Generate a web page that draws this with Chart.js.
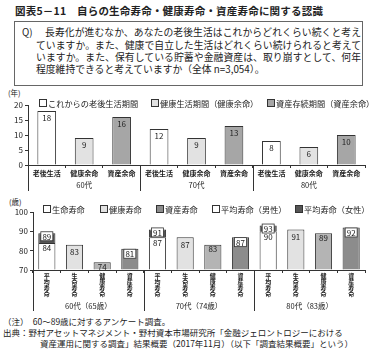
<!DOCTYPE html>
<html lang="ja">
<head>
<meta charset="utf-8">
<script src="https://cdn.jsdelivr.net/npm/chart.js@4/dist/chart.umd.min.js"></script>
<style>
  body { margin: 0; background: #fff; }
  #page { position: relative; width: 370px; height: 350px; overflow: hidden; font-family: "Noto Sans CJK JP", sans-serif; color: #222; }
  .abs { position: absolute; white-space: nowrap; }
  #title { left: 15px; top: 3px; font-size: 10.5px; font-weight: bold; letter-spacing: 0.2px; }
  #qbox { left: 14px; top: 21px; width: 347px; height: 63px; border: 1px solid #666; }
  .q { font-size: 9.8px; line-height: 12px; text-align: justify; text-align-last: justify; }
  .q.last { text-align-last: left; }
  .unit { font-size: 7.5px; }
  .lg { font-size: 8.2px; display: flex; align-items: center; }
  .lg i { display: inline-block; width: 6px; height: 6px; border: 1px solid #333; margin-right: 1px; }
  .note { font-size: 8.5px; line-height: 11px; }
  .box { position: absolute; }
</style>
</head>
<body>
<div id="page">
  <div class="abs" id="title">図表5－11　自らの生命寿命・健康寿命・資産寿命に関する認識</div>
  <div class="abs" id="qbox"></div>
  <div class="abs q" style="left:22px;top:26px;">Q)</div>
  <div class="abs q" style="left:45px;top:26px;width:316px;">長寿化が進むなか、あなたの老後生活はこれからどれくらい続くと考え</div>
  <div class="abs q" style="left:36px;top:39px;width:325px;">ていますか。また、健康で自立した生活はどれくらい続けられると考えて</div>
  <div class="abs q" style="left:36px;top:51px;width:325px;">いますか。また、保有している貯蓄や金融資産は、取り崩すとして、何年</div>
  <div class="abs q last" style="left:36px;top:63px;">程度維持できると考えていますか（全体 n=3,054）。</div>

  <div class="abs unit" style="left:8px;top:87px;">(年)</div>
  <div class="box" style="left:0;top:88px;width:370px;height:104px;"><canvas id="years"></canvas></div>
  <div class="abs lg" style="left:39px;top:97px;"><i style="background:#fff"></i>これからの老後生活期間</div>
  <div class="abs lg" style="left:151px;top:97px;"><i style="background:#e2e2e2"></i>健康生活期間（健康余命）</div>
  <div class="abs lg" style="left:267px;top:97px;"><i style="background:#a6a6a6"></i>資産存続期間（資産余命）</div>

  <div class="abs unit" style="left:9px;top:196px;">(歳)</div>
  <div class="box" style="left:0;top:195px;width:370px;height:120px;"><canvas id="ages"></canvas></div>
  <div class="abs lg" style="left:43px;top:203px;"><i style="background:#fff"></i>生命寿命</div>
  <div class="abs lg" style="left:100px;top:203px;"><i style="background:#e2e2e2"></i>健康寿命</div>
  <div class="abs lg" style="left:156px;top:203px;"><i style="background:#8c8c8c"></i>資産寿命</div>
  <div class="abs lg" style="left:212px;top:203px;"><i style="background:#fff"></i>平均寿命（男性）</div>
  <div class="abs lg" style="left:295px;top:203px;"><i style="background:#555"></i>平均寿命（女性）</div>

  <div class="abs note" style="left:3px;top:316px;">（注）　60～89歳に対するアンケート調査。</div>
  <div class="abs note" style="left:3px;top:327px;">出典：野村アセットマネジメント・野村資本市場研究所「金融ジェロントロジーにおける</div>
  <div class="abs note" style="left:40px;top:338px;">資産運用に関する調査」結果概要（2017年11月）（以下「調査結果概要」という）</div>
</div>

<script>
// upper chart: remaining years
const yearCats = ['老後生活', '健康余命', '資産余命'];
const yearGroups = ['60代', '70代', '80代'];
const retireYears = [18, 12, 8];
const healthyYears = [9, 9, 6];
const assetYears = [16, 13, 10];
const yearTicks = [0, 5, 10, 15, 20];

// lower chart: expected age
const ageCats = ['平均寿命', '生命寿命', '健康寿命', '資産寿命'];
const ageGroups = ['60代（65歳）', '70代（74歳）', '80代（83歳）'];
const avgMale = [84, 87, 90];
const avgFemale = [89, 91, 93];
const lifeAge = [83, 87, 91];
const healthAge = [74, 83, 89];
const assetAge = [81, 87, 92];
const ageTicks = [70, 75, 80, 85, 90, 95, 100];

const FONT = '"Noto Sans CJK JP", sans-serif';
const INK = '#222';
const EDGE = '#333';

// put each group's value at its own slot, other slots stay empty
function spread(values, slot, per) {
  const out = new Array(values.length * per).fill(null);
  values.forEach((v, g) => { out[g * per + slot] = v; });
  return out;
}

// value labels inside the top of each bar, optionally on a white box
const barLabels = {
  id: 'barLabels',
  afterDatasetsDraw(chart) {
    const ctx = chart.ctx;
    ctx.save();
    ctx.font = '8px ' + FONT;
    ctx.textAlign = 'center';
    ctx.textBaseline = 'middle';
    chart.data.datasets.forEach((ds, i) => {
      chart.getDatasetMeta(i).data.forEach((bar, j) => {
        const raw = ds.data[j];
        if (raw == null) return;
        const v = Array.isArray(raw) ? raw[1] : raw;
        const y = bar.y + (ds.labelDy || 6);
        if (ds.labelBox) {
          ctx.fillStyle = '#fff';
          ctx.strokeStyle = EDGE;
          ctx.lineWidth = 0.8;
          ctx.fillRect(bar.x - 6, y - 4.5, 12, 9);
          ctx.strokeRect(bar.x - 6, y - 4.5, 12, 9);
        }
        ctx.fillStyle = INK;
        ctx.fillText(String(v), bar.x, y + 0.5);
      });
    });
    ctx.restore();
  }
};

// group dividers under the axis and the group names
const groupAxis = {
  id: 'groupAxis',
  afterDraw(chart, args, opts) {
    const ctx = chart.ctx;
    const x = chart.scales.x;
    const per = opts.per;
    const w = x.width / chart.data.labels.length;
    const bottom = chart.chartArea.bottom;
    ctx.save();
    ctx.strokeStyle = EDGE;
    ctx.lineWidth = 1;
    opts.names.forEach((name, g) => {
      const left = Math.round(x.left + g * per * w) + 0.5;
      ctx.beginPath();
      ctx.moveTo(left, bottom);
      ctx.lineTo(left, bottom + opts.lineLen);
      ctx.stroke();
      ctx.fillStyle = INK;
      ctx.font = '7.5px ' + FONT;
      ctx.textAlign = 'center';
      ctx.textBaseline = 'middle';
      ctx.fillText(name, x.left + (g + 0.5) * per * w, bottom + opts.textDy);
    });
    ctx.restore();
  }
};

function axes(min, max, ticks, yWidth, xHeight, xFont, xPad) {
  return {
    x: {
      grid: { drawOnChartArea: false, tickLength: 3, color: EDGE },
      border: { color: EDGE },
      ticks: { font: xFont, color: INK, padding: xPad, maxRotation: 0, autoSkip: false },
      afterFit(s) { s.height = xHeight; }
    },
    y: {
      min: min, max: max,
      afterBuildTicks(s) { s.ticks = ticks.map(v => ({ value: v })); },
      grid: { drawOnChartArea: false, tickLength: 3, color: EDGE },
      border: { color: EDGE },
      ticks: { font: { family: FONT, size: 8 }, color: INK, padding: 2 },
      afterFit(s) { s.width = yWidth; }
    }
  };
}

const barStyle = { grouped: false, categoryPercentage: 1, borderColor: EDGE, borderWidth: 1 };

new Chart(document.getElementById('years'), {
  type: 'bar',
  data: {
    labels: yearGroups.flatMap(() => yearCats),
    datasets: [
      { ...barStyle, label: 'これからの老後生活期間', data: spread(retireYears, 0, 3), backgroundColor: '#fff', barPercentage: 0.5 },
      { ...barStyle, label: '健康生活期間（健康余命）', data: spread(healthyYears, 1, 3), backgroundColor: '#e2e2e2', barPercentage: 0.5 },
      { ...barStyle, label: '資産存続期間（資産余命）', data: spread(assetYears, 2, 3), backgroundColor: '#a6a6a6', barPercentage: 0.5 }
    ]
  },
  options: {
    responsive: true,
    maintainAspectRatio: false,
    animation: false,
    layout: { padding: { top: 17, right: 5, left: 0, bottom: 0 } },
    plugins: {
      legend: { display: false },
      tooltip: { enabled: false },
      groupAxis: { names: yearGroups, per: 3, lineLen: 26, textDy: 20 }
    },
    scales: axes(0, 20, yearTicks, 28, 27, { family: FONT, size: 7, weight: 'bold' }, 1)
  },
  plugins: [barLabels, groupAxis]
});

const ageStyle = { ...barStyle, base: 70, barPercentage: 0.62 };

new Chart(document.getElementById('ages'), {
  type: 'bar',
  data: {
    labels: ageGroups.flatMap(() => ageCats.map(c => c.split(''))),
    datasets: [
      { ...ageStyle, label: '平均寿命（男性）', data: spread(avgMale, 0, 4), backgroundColor: '#fff', labelDy: 5 },
      { ...ageStyle, label: '平均寿命（女性）', data: spread(avgFemale.map((f, g) => [avgMale[g], f]), 0, 4), backgroundColor: '#555', labelDy: 3, labelBox: true },
      { ...ageStyle, label: '生命寿命', data: spread(lifeAge, 1, 4), backgroundColor: '#e2e2e2', labelDy: 7 },
      { ...ageStyle, label: '健康寿命', data: spread(healthAge, 2, 4), backgroundColor: '#b4b4b4', labelDy: 4 },
      { ...ageStyle, label: '資産寿命', data: spread(assetAge, 3, 4), backgroundColor: '#8c8c8c', labelDy: 5, labelBox: true }
    ]
  },
  options: {
    responsive: true,
    maintainAspectRatio: false,
    animation: false,
    layout: { padding: { top: 17, right: 5, left: 0, bottom: 0 } },
    plugins: {
      legend: { display: false },
      tooltip: { enabled: false },
      groupAxis: { names: ageGroups, per: 4, lineLen: 41, textDy: 36 }
    },
    scales: axes(70, 100, ageTicks, 33, 45, { family: FONT, size: 6, weight: 'bold', lineHeight: 1 }, 0)
  },
  plugins: [barLabels, groupAxis]
});
</script>
</body>
</html>
